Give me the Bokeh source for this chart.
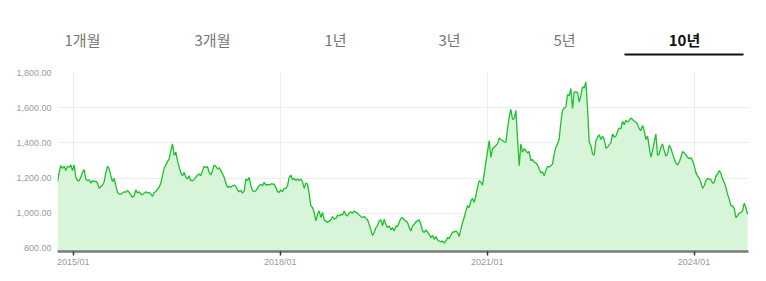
import pandas as pd
from bokeh.plotting import figure
from bokeh.models import (Range1d, FixedTicker, NumeralTickFormatter,
                          DatetimeTickFormatter, ColumnDataSource)
from bokeh.layouts import column
from bokeh.core.properties import value
from bokeh.embed import file_html
from bokeh.resources import INLINE

# ---------------- data ----------------
tab_labels = ["1개월", "3개월", "1년", "3년", "5년", "10년"]
selected_tab = "10년"

start_date = "2014-10-10"
end_date = "2024-10-10"

price_2014_2018 = [
    1179, 1232, 1270, 1255, 1267, 1242, 1267, 1261, 1274, 1242,
    1274, 1204, 1185, 1185, 1204, 1232, 1248, 1194, 1185, 1190,
    1171, 1185, 1179, 1183, 1171, 1141, 1152, 1160, 1179, 1232,
    1267, 1251, 1213, 1179, 1198, 1156, 1118, 1108, 1108, 1114,
    1122, 1118, 1130, 1118, 1103, 1090, 1099, 1133, 1114, 1122,
    1108, 1105, 1114, 1122, 1114, 1118, 1108, 1095, 1118, 1122,
    1137, 1147, 1171, 1213, 1255, 1274, 1293, 1309, 1356, 1394,
    1328, 1347, 1297, 1261, 1228, 1213, 1232, 1204, 1194, 1213,
    1185, 1185, 1190, 1204, 1217, 1223, 1213, 1242, 1267, 1259,
    1265, 1232, 1217, 1242, 1274, 1267, 1251, 1259, 1242, 1223,
    1204, 1171, 1147, 1152, 1147, 1156, 1160, 1152, 1133, 1122,
    1130, 1114, 1127, 1194, 1185, 1204, 1156, 1128, 1122, 1128,
    1141, 1156, 1164, 1156, 1175, 1160, 1164, 1160, 1166, 1166,
    1164, 1147, 1122, 1118, 1133, 1122, 1141, 1141, 1156, 1204,
    1217,
]
price_2018_2021 = [
    1190, 1198, 1185, 1194, 1185, 1194, 1179, 1141, 1171, 1166,
    1108, 1042, 1032, 1004, 956, 994, 1013, 975, 1004, 962,
    956, 947, 956, 962, 981, 966, 970, 989, 985, 994,
    989, 1013, 989, 985, 1000, 1008, 1000, 1013, 1004, 1000,
    989, 981, 975, 981, 970, 962, 937, 905, 874, 890,
    918, 928, 956, 962, 928, 966, 937, 918, 928, 905,
    918, 899, 928, 924, 947, 970, 975, 962, 956, 947,
    918, 899, 928, 937, 950, 956, 962, 937, 899, 890,
    905, 893, 880, 861, 874, 851, 867, 848, 842, 836,
    842, 829, 842, 861, 855, 874, 893, 893, 899, 890,
    867, 909, 947, 975, 1013, 1042, 1032, 1070, 1084, 1061,
    1099, 1147, 1185, 1175, 1160, 1223, 1290, 1350, 1413, 1318,
    1366, 1375, 1385, 1394, 1427, 1419, 1413, 1404, 1404, 1480,
    1547, 1590, 1533, 1537, 1585,
]
price_2021_2024 = [
    1423, 1270, 1394, 1347, 1366, 1356, 1343, 1350, 1299, 1305,
    1290, 1286, 1274, 1251, 1228, 1236, 1213, 1242, 1267, 1261,
    1270, 1280, 1337, 1375, 1394, 1423, 1518, 1585, 1598, 1604,
    1674, 1667, 1709, 1594, 1690, 1690, 1686, 1632, 1670, 1718,
    1712, 1747, 1594, 1404, 1385, 1337, 1330, 1413, 1432, 1446,
    1419, 1438, 1419, 1370, 1375, 1390, 1400, 1451, 1432, 1438,
    1465, 1484, 1480, 1522, 1503, 1528, 1518, 1528, 1541, 1533,
    1524, 1518, 1505, 1480, 1470, 1499, 1470, 1419, 1438, 1375,
    1318, 1356, 1404, 1451, 1328, 1337, 1375, 1394, 1356, 1324,
    1337, 1385, 1370, 1337, 1309, 1286, 1274, 1290, 1318, 1350,
    1343, 1331, 1318, 1309, 1316, 1299, 1270, 1232, 1210, 1200,
    1175, 1141, 1156, 1185, 1198, 1194, 1190, 1171, 1175, 1210,
    1223, 1242, 1228, 1194, 1175, 1147, 1108, 1080, 1042, 1042,
    1027, 975, 985, 1000, 1004, 1013, 1057, 1032, 994,
]

y_ticks = [800, 1000, 1200, 1400, 1600, 1800]
x_tick_dates = ["2015-01-01", "2018-01-01", "2021-01-01", "2024-01-01"]

# ---------------- build ----------------
prices = price_2014_2018 + price_2018_2021 + price_2021_2024
dates = pd.date_range(start_date, end_date, periods=len(prices))
src = ColumnDataSource(dict(date=dates, price=prices))

W = 766
LEFT, RIGHT = 57, 18

# --- tab bar (x in page pixels; frame spans LEFT..W-RIGHT, aligned with chart) ---
tab_x = [82, 212, 335, 449, 564, 684]
tabs = figure(width=W, height=62, x_range=Range1d(LEFT, W - RIGHT), y_range=Range1d(62, 0),
              toolbar_location=None, output_backend="svg",
              x_axis_location=None, y_axis_location=None,
              min_border_left=LEFT, min_border_right=RIGHT,
              min_border_top=0, min_border_bottom=0)
tabs.grid.visible = False
tabs.outline_line_color = None
unsel = [i for i, t in enumerate(tab_labels) if t != selected_tab]
sel = [i for i, t in enumerate(tab_labels) if t == selected_tab]
tabs.text(x=[tab_x[i] for i in unsel], y=[39] * len(unsel),
          text=[tab_labels[i] for i in unsel],
          text_align="center", text_baseline="middle",
          text_font=value("Noto Sans CJK KR"), text_font_size="15px",
          text_color="#777777")
tabs.text(x=[tab_x[i] for i in sel], y=[39] * len(sel),
          text=[tab_labels[i] for i in sel],
          text_align="center", text_baseline="middle",
          text_font=value("Noto Sans CJK KR"), text_font_size="15px",
          text_font_style="bold", text_color="#111111")
tabs.segment(x0=[624], y0=[54], x1=[743], y1=[54], line_color="#111111", line_width=2)

# --- chart ---
y_lo = 782
p = figure(width=W, height=219, x_axis_type="datetime",
           x_range=Range1d(pd.Timestamp(start_date), pd.Timestamp("2024-10-15")),
           y_range=Range1d(y_lo, y_ticks[-1]),
           toolbar_location=None, output_backend="svg",
           min_border_left=LEFT, min_border_right=RIGHT,
           min_border_top=10, min_border_bottom=30)
p.outline_line_color = None

p.varea(x="date", y1=y_lo, y2="price", source=src, fill_color="#d9f5d9")
p.line(x="date", y="price", source=src, line_color="#1cc22a", line_width=1.3)

p.yaxis.ticker = FixedTicker(ticks=y_ticks)
p.yaxis.formatter = NumeralTickFormatter(format="0,0.00")
p.yaxis.axis_line_color = None
p.yaxis.major_tick_line_color = None
p.yaxis.minor_tick_line_color = None
p.yaxis.major_label_text_font = "Liberation Sans"
p.yaxis.major_label_text_font_size = "9px"
p.yaxis.major_label_text_color = "#9a9a9a"
p.yaxis.major_label_standoff = 0

x_ticks_ms = [pd.Timestamp(d).value // 10**6 for d in x_tick_dates]
p.xaxis.ticker = FixedTicker(ticks=x_ticks_ms)
p.xaxis.formatter = DatetimeTickFormatter(years="%Y/%m", months="%Y/%m", days="%Y/%m",
                                          hours="%Y/%m", minutes="%Y/%m")
p.xaxis.axis_line_color = "#7a7a7a"
p.xaxis.axis_line_width = 2.5
p.xaxis.major_tick_line_color = "#333333"
p.xaxis.major_tick_line_width = 1.5
p.xaxis.major_tick_out = 4
p.xaxis.major_tick_in = 0
p.xaxis.minor_tick_line_color = None
p.xaxis.major_label_text_font = "Liberation Sans"
p.xaxis.major_label_text_font_size = "9px"
p.xaxis.major_label_text_color = "#9a9a9a"
p.xaxis.major_label_standoff = 1

p.xgrid.grid_line_color = "#ececec"
p.ygrid.grid_line_color = "#ececec"

layout = column(tabs, p, spacing=0)
open("out.html", "w").write(file_html(layout, INLINE))
